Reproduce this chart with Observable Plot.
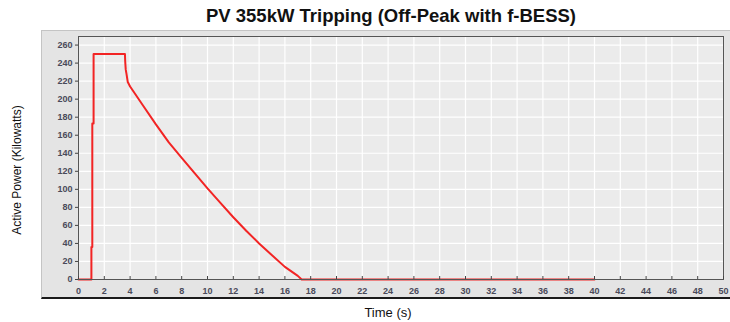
<!DOCTYPE html>
<html>
<head>
<meta charset="utf-8">
<script src="https://cdn.jsdelivr.net/npm/d3@7"></script>
<script src="https://cdn.jsdelivr.net/npm/@observablehq/plot@0.6"></script>
<style>
  html, body { margin: 0; padding: 0; background: #fff; }
  #wrap { position: relative; width: 730px; height: 322px; overflow: hidden; font-family: "Liberation Sans", Arial, sans-serif; }
  #panel { position: absolute; left: 41px; top: 30px; width: 689px; height: 269px; background: #e4e4e4;
           border-top: 1px solid #c4c4c4; border-left: 1px solid #c4c4c4; border-bottom: 2px solid #1a1a1a; box-sizing: border-box; }
  #title { position: absolute; left: 0; width: 782px; top: 5px; text-align: center; font-weight: bold; font-size: 18.5px; color: #111; }
  #xlab { position: absolute; left: 0; width: 776px; top: 305px; text-align: center; font-size: 13px; color: #111; }
  #ylab { position: absolute; left: 17px; top: 170px; transform: translate(-50%, -50%) rotate(-90deg); white-space: nowrap; font-size: 12px; color: #111; }
  #chart { position: absolute; left: 0; top: 0; }
</style>
</head>
<body>
<div id="wrap">
  <div id="panel"></div>
  <div id="title">PV 355kW Tripping (Off-Peak with f-BESS)</div>
  <div id="xlab">Time (s)</div>
  <div id="ylab">Active Power (Kilowatts)</div>
  <div id="chart"></div>
</div>
<script>
const time  = [0, 1.0, 1.0, 1.07, 1.07, 1.17, 1.17, 3.6, 3.62, 3.66, 3.72, 3.82, 4, 5, 6, 7, 8, 9, 10, 11, 12, 13, 14, 15, 16, 17, 17.3, 40];
const power = [0, 0, 36, 36, 173, 173, 250, 250, 242, 233, 228, 219, 214, 193, 172, 152, 135, 118, 101, 85, 69, 54, 40, 27, 14, 4, 0, 0];
const xTicks = d3.range(0, 51, 2);
const yTicks = d3.range(0, 261, 20);

const data = time.map((t, i) => ({t, p: power[i]}));

const chart = Plot.plot({
  width: 730,
  height: 322,
  marginLeft: 78,
  marginRight: 7,
  marginTop: 36,
  marginBottom: 43,
  style: { background: "transparent", fontFamily: "Liberation Sans, Arial, sans-serif", fontSize: "9px", fontWeight: "bold", color: "#333" },
  x: { domain: [0, 50] },
  y: { domain: [0, 269.5] },
  marks: [
    Plot.frame({ fill: "#ebebeb", stroke: null }),
    Plot.gridX(xTicks, { stroke: "#ffffff", strokeOpacity: 1, strokeWidth: 1.2 }),
    Plot.gridY(yTicks, { stroke: "#ffffff", strokeOpacity: 1, strokeWidth: 1.2 }),
    Plot.line(data, { x: "t", y: "p", stroke: "#f22424", strokeWidth: 2, curve: "linear" }),
    Plot.frame({ stroke: "#555", strokeWidth: 1 }),
    Plot.axisX(xTicks, { tickSize: -3, tickPadding: 11, label: null, fill: "#4a4a5a", stroke: "#444" }),
    Plot.axisY(yTicks, { tickSize: 3, tickPadding: 3, label: null, fill: "#4a4a5a", stroke: "#444" })
  ]
});
document.getElementById("chart").appendChild(chart);
</script>
</body>
</html>
